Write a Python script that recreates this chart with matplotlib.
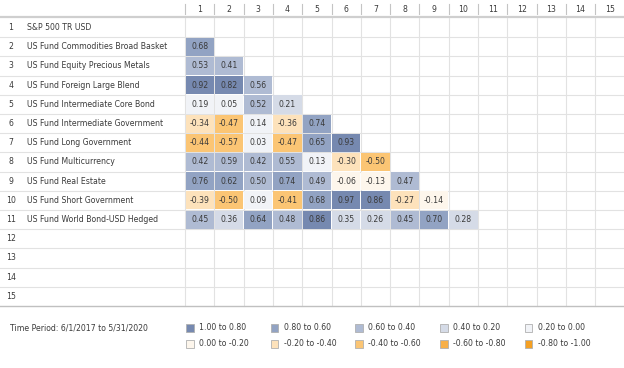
import matplotlib
matplotlib.use("Agg")
import matplotlib.pyplot as plt
from matplotlib.patches import Rectangle

names = ["S&P 500 TR USD",
         "US Fund Commodities Broad Basket",
         "US Fund Equity Precious Metals",
         "US Fund Foreign Large Blend",
         "US Fund Intermediate Core Bond",
         "US Fund Intermediate Government",
         "US Fund Long Government",
         "US Fund Multicurrency",
         "US Fund Real Estate",
         "US Fund Short Government",
         "US Fund World Bond-USD Hedged",
         "", "", "", ""]

corr_rows = [
    [],
    [0.68],
    [0.53, 0.41],
    [0.92, 0.82, 0.56],
    [0.19, 0.05, 0.52, 0.21],
    [-0.34, -0.47, 0.14, -0.36, 0.74],
    [-0.44, -0.57, 0.03, -0.47, 0.65, 0.93],
    [0.42, 0.59, 0.42, 0.55, 0.13, -0.30, -0.50],
    [0.76, 0.62, 0.50, 0.74, 0.49, -0.06, -0.13, 0.47],
    [-0.39, -0.50, 0.09, -0.41, 0.68, 0.97, 0.86, -0.27, -0.14],
    [0.45, 0.36, 0.64, 0.48, 0.86, 0.35, 0.26, 0.45, 0.70, 0.28],
]

legend_labels = ["1.00 to 0.80", "0.80 to 0.60", "0.60 to 0.40", "0.40 to 0.20", "0.20 to 0.00",
                 "0.00 to -0.20", "-0.20 to -0.40", "-0.40 to -0.60", "-0.60 to -0.80", "-0.80 to -1.00"]
bin_edges = [1.0, 0.8, 0.6, 0.4, 0.2, 0.0, -0.2, -0.4, -0.6, -0.8, -1.0]
bin_colors = ["#7689b0", "#92a3c3", "#afbbd3", "#d5dbe7", "#f1f3f7",
              "#fdf6ec", "#fde2bb", "#fbc574", "#f8b048", "#f5a023"]
period = "Time Period: 6/1/2017 to 5/31/2020"

def bin_index(v):
    for i in range(10):
        if v >= bin_edges[i + 1]:
            return i
    return 9

W, H = 624, 368
fig = plt.figure(figsize=(W / 100, H / 100), dpi=100)
ax = fig.add_axes([0, 0, 1, 1])
ax.set_xlim(0, W)
ax.set_ylim(H, 0)
ax.axis("off")

x0, cw = 185.0, 29.3
y0, rh = 18.0, 19.2
n = 15
txt = "#3a3a3a"
fs = 5.6
fam = "DejaVu Sans"

# header
for j in range(n):
    xl = x0 + j * cw
    ax.plot([xl, xl], [4, 14], color="#c4c4c4", lw=0.8)
    ax.text(xl + cw / 2, 9.5, str(j + 1), ha="center", va="center", fontsize=fs, color=txt, family=fam)
ax.plot([0, W], [16.8, 16.8], color="#cfcfcf", lw=1.6)

# grid
for i in range(1, n):
    y = y0 + i * rh
    ax.plot([0, W], [y, y], color="#e2e2e2", lw=0.8)
for j in range(n + 1):
    x = x0 + j * cw
    ax.plot([x, x], [y0, y0 + n * rh], color="#e2e2e2", lw=0.8)
ax.plot([0, W], [y0 + n * rh, y0 + n * rh], color="#c0c0c0", lw=1.0)

# row labels
for i in range(n):
    yc = y0 + (i + 0.5) * rh
    ax.text(11, yc, str(i + 1), ha="center", va="center", fontsize=fs, color=txt, family=fam)
    ax.text(27, yc, names[i], ha="left", va="center", fontsize=fs, color=txt, family=fam)

# cells
for i, row in enumerate(corr_rows):
    for j, v in enumerate(row):
        xl = x0 + j * cw
        yt = y0 + i * rh
        ax.add_patch(Rectangle((xl + 0.5, yt + 0.5), cw - 1, rh - 1,
                               facecolor=bin_colors[bin_index(v)], edgecolor="none", zorder=3))
        ax.text(xl + cw / 2, yt + rh / 2, f"{v:.2f}", ha="center", va="center",
                fontsize=fs, color=txt, family=fam, zorder=4)

# footer
ax.text(10, 328, period, ha="left", va="center", fontsize=fs, color=txt, family=fam)
for k, lab in enumerate(legend_labels):
    col, r = k % 5, k // 5
    sx = 186 + col * 84.7
    sy = 328 + r * 16
    ax.add_patch(Rectangle((sx, sy - 3.8), 7.6, 7.6, facecolor=bin_colors[k],
                           edgecolor="#b0b0b0", lw=0.6, zorder=3))
    ax.text(sx + 13, sy, lab, ha="left", va="center", fontsize=fs, color=txt, family=fam)

fig.savefig("out.png", dpi=100, facecolor="white")
